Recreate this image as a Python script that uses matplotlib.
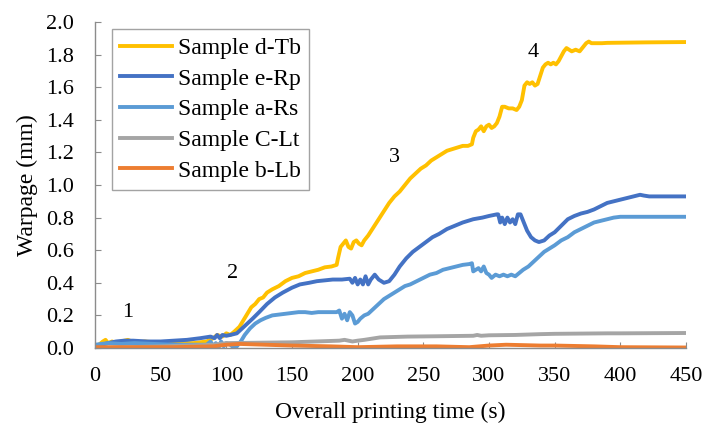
import matplotlib
matplotlib.use("Agg")
import matplotlib.pyplot as plt

# ---------------- data ----------------
t_dtb = [0,3,6,8,10,13,16,20,25,28,32,38,45,55,65,75,85,90,93,97,100,103,106,110,113,116,119,122,125,128,131,135,140,145,150,155,160,165,170,175,180,184,185,187,189,191,193,195,197,199,201,203,205,208,212,216,220,224,228,232,236,240,244,248,252,256,260,264,268,272,276,280,284,287,288,290,292,294,296,298,300,302,304,306,308,310,312,315,318,321,323,325,327,329,331,333,335,337,339,341,343,345,347,349,351,353,355,357,359,361,363,366,369,372,374,376,378,380,383,386,390,400,420,450]
w_dtb = [0.01,0.02,0.04,0.05,0.03,0.04,0.03,0.04,0.05,0.04,0.035,0.04,0.035,0.03,0.03,0.03,0.04,0.06,0.08,0.07,0.09,0.08,0.10,0.13,0.17,0.21,0.25,0.27,0.30,0.31,0.34,0.36,0.38,0.41,0.43,0.44,0.46,0.47,0.48,0.495,0.50,0.51,0.55,0.62,0.64,0.66,0.62,0.61,0.65,0.66,0.64,0.63,0.66,0.69,0.74,0.79,0.84,0.89,0.93,0.96,1.00,1.04,1.07,1.10,1.12,1.15,1.17,1.19,1.21,1.22,1.23,1.24,1.24,1.25,1.29,1.33,1.34,1.36,1.33,1.36,1.37,1.35,1.36,1.38,1.42,1.48,1.48,1.47,1.47,1.46,1.48,1.52,1.61,1.63,1.62,1.63,1.61,1.62,1.67,1.72,1.74,1.75,1.74,1.75,1.74,1.76,1.79,1.82,1.84,1.83,1.82,1.83,1.82,1.85,1.87,1.88,1.87,1.87,1.87,1.87,1.872,1.873,1.875,1.877]

t_erp = [0,5,10,16,22,29,40,50,60,70,80,88,91,93,95,97,100,103,108,112,116,120,125,131,137,143,150,156,163,169,175,181,188,194,196,198,200,202,204,206,208,210,213,216,220,224,228,232,237,242,247,252,257,262,268,274,280,288,295,300,306,307,308.5,310,312,314,316,318,320,322,324,326,329,332,335,338,342,346,350,355,360,365,370,375,380,385,390,395,400,405,410,415,418,422,430,450]
w_erp = [0.01,0.02,0.03,0.04,0.045,0.045,0.04,0.04,0.045,0.05,0.06,0.07,0.06,0.08,0.06,0.08,0.075,0.08,0.09,0.12,0.15,0.18,0.22,0.27,0.31,0.34,0.37,0.39,0.40,0.41,0.415,0.42,0.42,0.425,0.40,0.43,0.39,0.42,0.39,0.44,0.39,0.42,0.45,0.42,0.40,0.41,0.45,0.50,0.55,0.59,0.62,0.65,0.68,0.70,0.73,0.75,0.77,0.79,0.80,0.81,0.82,0.82,0.77,0.80,0.76,0.80,0.77,0.79,0.76,0.82,0.82,0.78,0.72,0.68,0.66,0.65,0.66,0.69,0.71,0.75,0.79,0.81,0.825,0.835,0.85,0.87,0.89,0.90,0.91,0.92,0.93,0.94,0.935,0.93,0.93,0.93]

t_ars = [0,10,20,30,45,60,75,85,88,90,92,94,96,98,100,103,106,108,111,114,118,122,126,130,135,140,145,150,155,160,165,170,175,180,184,186,188,190,192,194,196,198,200,202,205,208,212,216,220,224,228,232,236,240,245,250,255,260,265,270,275,280,285,287,288,290,292,294,296,298,300,302,305,308,311,314,317,320,323,326,330,334,338,342,346,350,355,360,365,370,375,380,385,390,395,400,420,450]
w_ars = [0.02,0.03,0.025,0.03,0.025,0.02,0.02,0.02,0.04,0.01,0.03,0.0,0.04,0.01,0.03,0.02,0.0,0.01,0.04,0.08,0.12,0.15,0.17,0.185,0.20,0.205,0.21,0.215,0.22,0.22,0.215,0.22,0.22,0.22,0.22,0.23,0.18,0.21,0.17,0.22,0.20,0.15,0.16,0.18,0.20,0.21,0.24,0.27,0.30,0.32,0.34,0.36,0.38,0.39,0.41,0.43,0.45,0.46,0.48,0.49,0.50,0.51,0.515,0.52,0.47,0.48,0.49,0.47,0.50,0.46,0.45,0.43,0.45,0.44,0.45,0.44,0.45,0.44,0.46,0.48,0.50,0.53,0.56,0.59,0.61,0.63,0.66,0.68,0.71,0.73,0.75,0.77,0.78,0.79,0.80,0.805,0.805,0.805]

t_clt = [0,50,90,100,150,186,190,196,200,205,217,238,260,288,291,294,300,320,339,350,390,400,450]
w_clt = [0.0,0.01,0.02,0.03,0.035,0.045,0.05,0.04,0.045,0.05,0.065,0.07,0.072,0.075,0.08,0.075,0.078,0.08,0.085,0.087,0.09,0.09,0.092]

t_blb = [0,30,60,90,100,110,130,150,180,200,230,260,285,300,313,339,350,380,400,450]
w_blb = [0.005,0.005,0.005,0.01,0.02,0.025,0.02,0.015,0.01,0.005,0.01,0.01,0.005,0.015,0.02,0.015,0.015,0.01,0.005,0.003]

labels = ["Sample d-Tb", "Sample e-Rp", "Sample a-Rs", "Sample C-Lt", "Sample b-Lb"]
colors = ["#FFC000", "#4472C4", "#5B9BD5", "#A5A5A5", "#ED7D31"]

ann_text = ["1", "2", "3", "4"]
ann_t = [25, 105, 228, 334]
ann_w = [0.215, 0.46, 1.17, 1.81]

xticks = [0, 50, 100, 150, 200, 250, 300, 350, 400, 450]
yticks = [0.0, 0.2, 0.4, 0.6, 0.8, 1.0, 1.2, 1.4, 1.6, 1.8, 2.0]

# ---------------- plot ----------------
plt.rcParams['font.family'] = ['Liberation Serif', 'DejaVu Serif']
plt.rcParams['font.size'] = 16

fig = plt.figure(figsize=(7.04, 4.26), dpi=100)
ax = fig.add_axes([95/704, 1-348/426, (686-95)/704, (348-22)/426])

series = [(t_dtb, w_dtb), (t_erp, w_erp), (t_ars, w_ars), (t_clt, w_clt), (t_blb, w_blb)]
for (t, w), lab, c in zip(series, labels, colors):
    ax.plot(t, w, color=c, lw=2.8, label=lab, solid_joinstyle='round')

for s, tx, wy in zip(ann_text, ann_t, ann_w):
    ax.text(tx, wy, s, ha='center', va='center', fontsize=16)

ax.set_xlim(0, 450)
ax.set_ylim(0, 2.0)
ax.set_xticks(xticks)
ax.set_yticks(yticks)
ax.set_yticklabels([f"{v:.1f}" for v in yticks])
for sp in ['top', 'right']:
    ax.spines[sp].set_visible(False)
for sp in ['left', 'bottom']:
    ax.spines[sp].set_color('#8C8C8C')
    ax.spines[sp].set_linewidth(1.0)
ax.tick_params(direction='in', length=4, color='#8C8C8C', labelsize=16)
ax.tick_params(axis='x', pad=14)
ax.tick_params(axis='y', pad=15)

ax.set_xlabel("Overall printing time (s)", fontsize=17, labelpad=11)
ax.set_ylabel("Warpage (mm)", fontsize=17, labelpad=6)

leg = ax.legend(loc='upper left', bbox_to_anchor=((112-95)/591, 1-(29-22)/326),
                frameon=True, fancybox=False, edgecolor='#8C8C8C', fontsize=17,
                handlelength=2.2, handletextpad=0.25, labelspacing=0.39,
                borderpad=0.35, borderaxespad=0)
leg.get_frame().set_linewidth(1.0)

fig.savefig("out.png", dpi=100)
